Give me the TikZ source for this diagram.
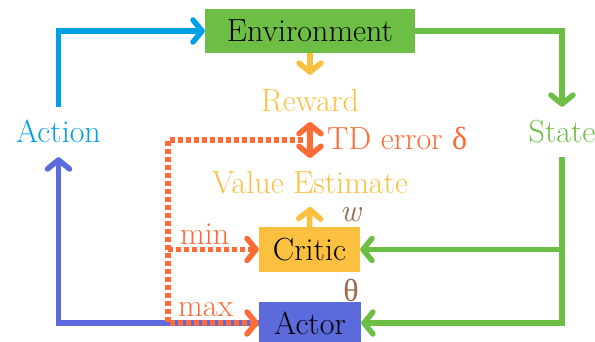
\documentclass[tikz,border=0pt]{standalone}
\usepackage{fontspec}
\newfontfamily\grkfont{Liberation Serif}
\usetikzlibrary{arrows.meta}
\definecolor{envgreen}{HTML}{6DBE45}
\definecolor{actblue}{HTML}{00A0E9}
\definecolor{critylw}{HTML}{FBC03F}
\definecolor{actorblue}{HTML}{5B6BDB}
\definecolor{tdorange}{HTML}{FF6A35}
\definecolor{parbrown}{HTML}{9A6A4C}
\begin{document}
\begin{tikzpicture}[x=1pt,y=-1pt,
  font=\fontsize{32}{38}\selectfont,
  tip/.style={-{Straight Barb[length=9pt,width=22pt,round]}},
  twotip/.style={{Straight Barb[length=9pt,width=22pt,round]}-{Straight Barb[length=9pt,width=22pt,round]}},
  conn/.style={line width=5.5pt},
  box/.style={rectangle, inner sep=0pt, text=black},
  lbl/.style={inner sep=0pt, anchor=base},
  dotline/.style={line width=5.5pt, draw=tdorange, dash pattern=on 5pt off 3pt},
]
\useasboundingbox (0,0) rectangle (595,342);

% boxes
\node[box, fill=envgreen, minimum width=210pt, minimum height=44pt] (env) at (310,31) {Environment};
\node[box, fill=critylw, minimum width=101pt, minimum height=45pt] (critic) at (309.5,249.5) {Critic};
\node[box, fill=actorblue, minimum width=102pt, minimum height=42pt] (actor) at (310,323) {Actor};

% labels
\node[lbl, text=actblue, text height=22pt, text depth=0pt, inner ysep=14pt] (action) at (58.5,143) {Action};
\node[lbl, text=envgreen, text height=22pt, text depth=0pt, inner ysep=14pt] (state) at (562,143) {State};
\node[lbl, text=critylw, text height=22pt, text depth=0pt, inner ysep=15pt] (reward) at (310,112) {Reward};
\node[lbl, text=critylw, text height=22pt, text depth=0pt, inner ysep=1pt] (value) at (310,194) {Value Estimate};
\node[lbl, text=tdorange, anchor=base west] (tdtxt) at (327,150) {TD error {\grkfont δ}};
\node[lbl, text=tdorange, anchor=base west] (minl) at (180,244) {min};
\node[lbl, text=tdorange, anchor=base west] (maxl) at (178,316) {max};
\node[lbl, text=parbrown] (wl) at (351,222) {\textit{w}};
\node[lbl, text=parbrown] (thl) at (351,301) {{\grkfont θ}};

% main loop
\draw[conn, tip, actblue] (action.north) |- (env.west);
\draw[conn, tip, envgreen] (env.east) -| (state.north);
\draw[conn, tip, envgreen] (state.south) |- (actor.east);
\draw[conn, tip, envgreen] (state.south |- critic.east) -- (critic.east);
\draw[conn, tip, actorblue] (actor.west) -| (action.south);

% reward / value arrows
\coordinate (valbot) at (310,207);
\draw[conn, tip, critylw] (env.south) -- (reward.north);
\draw[conn, tip, critylw] (critic.north) -- (valbot);

% TD error
\coordinate (tdtop) at (310,122);
\coordinate (tdbot) at (310,158);
\draw[conn, twotip, tdorange] (tdtop) -- (tdbot);
\coordinate (tdmid) at (303,140);
\coordinate (corner) at (168,140);
\draw[dotline, tip] (tdmid) -- (corner) |- (actor.west);
\draw[dotline, tip] (corner |- critic.west) -- (critic.west);
\end{tikzpicture}
\end{document}
